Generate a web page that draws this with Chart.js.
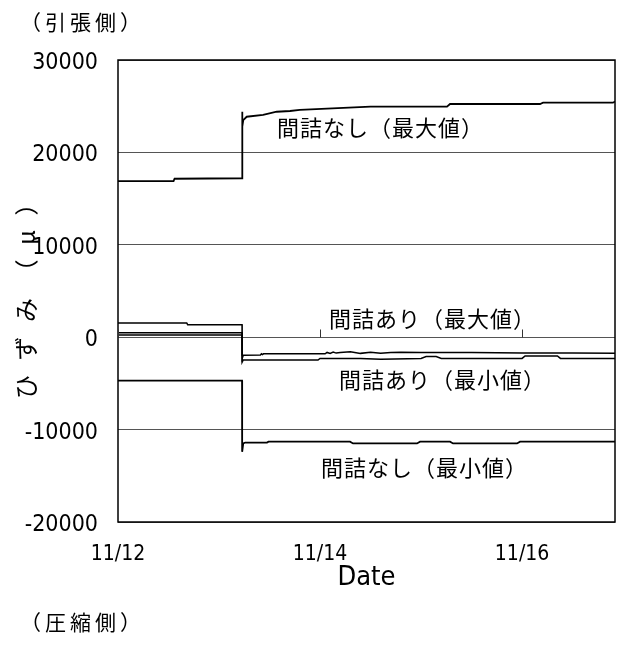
<!DOCTYPE html>
<html>
<head>
<meta charset="utf-8">
<script src="https://cdn.jsdelivr.net/npm/chart.js@4"></script>
<style>
html,body{margin:0;padding:0;background:#fff;}
#wrap{width:619px;height:645px;position:relative;}
</style>
</head>
<body>
<div id="wrap"><canvas id="c"></canvas></div>
<script>
// ---- axis definitions ----
const tickValues = [0, 2, 4];               // days since 11/12
const tickLabels = ['11/12', '11/14', '11/16'];
const xMaxDay = 4.92;
const yMin = -20000, yMax = 30000, yStep = 10000;

// ---- series (x = days since 11/12 00:00, y = strain μ) ----
const nashiMaxT = [0, 0.55, 0.56, 1.228, 1.229, 1.232, 1.24, 1.274, 1.436, 1.571, 1.703, 1.8, 2.5, 3.257, 3.287, 4.178, 4.208, 4.9, 4.92];
const nashiMaxV = [16900, 16900, 17150, 17200, 24400, 22800, 23500, 23860, 24050, 24400, 24480, 24600, 24950, 24950, 25240, 25240, 25380, 25380, 25500];

const ariMaxT = [0, 0.68, 0.69, 1.228, 1.229, 1.24, 1.41, 1.42, 1.43, 1.44, 2.05, 2.07, 2.10, 2.13, 2.16, 2.2, 2.3, 2.4, 2.5, 2.6, 2.7, 2.8, 3.0, 3.5, 4.0, 4.5, 4.92];
const ariMaxV = [1550, 1550, 1350, 1350, -2300, -1950, -1930, -1800, -1880, -1800, -1800, -1650, -1750, -1600, -1720, -1650, -1580, -1750, -1640, -1750, -1650, -1630, -1650, -1650, -1700, -1720, -1750];

const ariSubT = [0, 1.228, 1.229];
const ariSubV = [480, 480, -2000];

const ariMinT = [0, 1.228, 1.229, 1.24, 1.98, 2.0, 2.4, 2.6, 3.0, 3.05, 3.15, 3.2, 3.6, 4.0, 4.03, 4.35, 4.38, 4.92];
const ariMinV = [250, 250, -2700, -2470, -2470, -2300, -2300, -2380, -2300, -2100, -2100, -2300, -2300, -2300, -2030, -2030, -2300, -2300];

const nashiMinT = [0, 1.228, 1.229, 1.24, 1.26, 1.475, 1.49, 2.297, 2.327, 2.96, 2.99, 3.287, 3.317, 3.95, 3.98, 4.92];
const nashiMinV = [-4700, -4700, -12400, -11500, -11400, -11400, -11300, -11300, -11500, -11500, -11300, -11300, -11500, -11500, -11300, -11300];

const seriesNames = ['間詰なし（最大値）', '間詰あり（最大値）', '間詰あり', '間詰あり（最小値）', '間詰なし（最小値）'];

const toPts = (t, v) => t.map((d, i) => ({x: d, y: v[i]}));

const NARROW = "'Liberation Sans Narrow', 'DejaVu Sans Condensed', 'Arial Narrow', sans-serif";
const CJK = "'Noto Sans CJK JP', 'Noto Sans CJK SC', sans-serif";

const mk = (label, t, v, w) => ({
  label, data: toPts(t, v), borderColor: '#000', backgroundColor: '#000',
  borderWidth: w, pointRadius: 0, tension: 0, fill: false
});

const deco = {
  id: 'deco',
  afterDraw(chart, args, opts) {
    const {ctx, chartArea: a, scales: {x, y}} = chart;
    ctx.save();
    // frame
    ctx.strokeStyle = '#000';
    ctx.lineWidth = 1.5;
    ctx.strokeRect(a.left, a.top, a.right - a.left, a.bottom - a.top);
    // tick marks on the zero line
    const y0 = Math.round(y.getPixelForValue(0)) + 0.5;
    ctx.lineWidth = 1;
    ctx.strokeStyle = '#333';
    tickValues.forEach(v => {
      const px = Math.round(x.getPixelForValue(v)) + 0.5;
      ctx.beginPath(); ctx.moveTo(px, y0); ctx.lineTo(px, y0 - 8); ctx.stroke();
    });
    // in-plot labels
    ctx.fillStyle = '#000';
    ctx.textBaseline = 'middle';
    ctx.textAlign = 'left';
    ctx.font = '22px ' + CJK;
    ctx.letterSpacing = '1px';
    opts.labels.forEach(l => ctx.fillText(l.text, x.getPixelForValue(l.x), y.getPixelForValue(l.y)));
    // corner notes
    ctx.font = '21px ' + CJK;
    ctx.letterSpacing = '4px';
    ctx.fillText('（引張側）', 20, 22);
    ctx.fillText('（圧縮側）', 20, 622);
    // x title
    ctx.letterSpacing = '0px';
    ctx.font = '27px ' + NARROW;
    ctx.textAlign = 'center';
    ctx.fillText('Date', (a.left + a.right) / 2, 578);
    // y title (rotated)
    ctx.translate(26, 399);
    ctx.rotate(-Math.PI / 2);
    ctx.textAlign = 'left';
    ctx.font = '24px ' + CJK;
    ctx.letterSpacing = '14.5px';
    ctx.fillText('ひずみ（μ）', 0, 0);
    ctx.restore();
  }
};

new Chart(document.getElementById('c'), {
  type: 'line',
  data: {
    datasets: [
      mk(seriesNames[0], nashiMaxT, nashiMaxV, 1.8),
      mk(seriesNames[1], ariMaxT, ariMaxV, 1.5),
      mk(seriesNames[2], ariSubT, ariSubV, 1.5),
      mk(seriesNames[3], ariMinT, ariMinV, 1.5),
      mk(seriesNames[4], nashiMinT, nashiMinV, 1.8)
    ]
  },
  options: {
    responsive: true,
    maintainAspectRatio: false,
    animation: false,
    layout: {padding: {top: 60, right: 4, left: 0, bottom: 0}},
    plugins: {
      legend: {display: false},
      tooltip: {enabled: false},
      deco: {
        labels: [
          {text: seriesNames[0], x: 1.574, y: 22640},
          {text: seriesNames[1], x: 2.089, y: 1970},
          {text: seriesNames[3], x: 2.188, y: -4630},
          {text: seriesNames[4], x: 2.01, y: -14070}
        ]
      }
    },
    scales: {
      x: {
        type: 'linear', min: 0, max: xMaxDay,
        afterBuildTicks: s => { s.ticks = tickValues.map(v => ({value: v})); },
        afterFit: s => { s.height = 123; },
        grid: {display: false, drawTicks: false},
        border: {display: false},
        ticks: {
          autoSkip: false, maxRotation: 0, padding: 20,
          color: '#000', font: {family: NARROW, size: 21},
          callback: (v, i) => tickLabels[i]
        }
      },
      y: {
        min: yMin, max: yMax,
        afterFit: s => { s.width = 118; },
        grid: {color: '#555', lineWidth: 1, drawTicks: false},
        border: {display: false},
        ticks: {
          stepSize: yStep, padding: 20, labelOffset: 3,
          color: '#000', font: {family: NARROW, size: 23},
          callback: v => String(v)
        }
      }
    }
  },
  plugins: [deco]
});
</script>
</body>
</html>
